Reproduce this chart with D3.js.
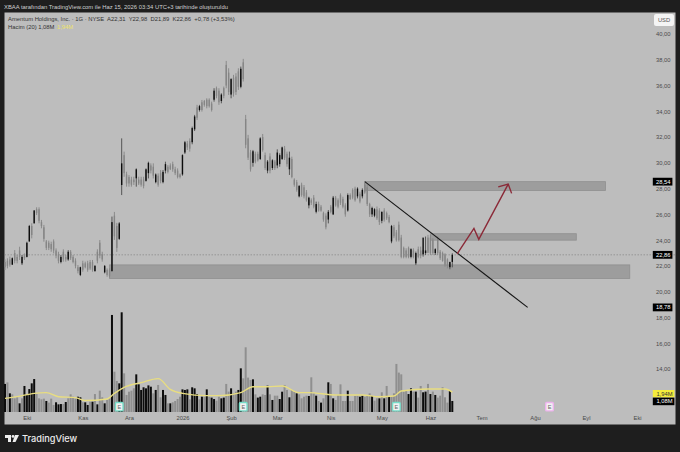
<!DOCTYPE html>
<html>
<head>
<meta charset="utf-8">
<script src="https://cdn.jsdelivr.net/npm/d3@7"></script>
<style>
html, body { margin: 0; padding: 0; background: #1e1e1e; }
svg { display: block; font-family: "Liberation Sans", Arial, sans-serif; }
</style>
</head>
<body>
<div id="chart"></div>
<script>
var highs = [
  22.51,22.59,22.72,22.66,23.23,22.85,23.49,22.85,22.97,23.88,
  25.18,25.31,26.34,26.55,26.55,25.57,25.18,24.01,23.96,23.88,
  24.06,23.36,23.1,22.85,23.29,22.85,23.23,23.23,22.85,22.59,
  22.07,21.94,22.4,22.33,22.4,22.46,22.46,22.07,23.29,24.01,
  23.1,22.07,21.81,21.81,25.83,26.19,25.34,25.4,31.9,30.87,
  29.31,29.05,28.92,28.92,29.57,28.92,28.92,28.92,29.57,30.09,
  29.96,29.96,29.18,29.18,29.44,29.44,30.09,29.83,29.96,30.09,
  29.7,29.57,29.18,30.66,31.7,31.7,31.9,32.81,33.72,34.5,
  34.5,34.88,34.88,35.01,35.01,34.75,35.79,35.92,35.79,35.4,
  35.92,37.91,37.34,36.57,36.83,36.96,37.34,37.47,38.07,33.72,
  32.17,31.0,31.0,30.87,30.87,31.99,32.24,30.8,30.22,30.74,
  30.28,30.22,31.05,30.74,31.26,31.31,30.87,30.87,30.48,28.8,
  28.67,28.28,28.46,28.28,27.89,27.37,27.24,27.5,26.99,26.99,
  26.73,26.21,26.08,26.34,26.73,27.43,27.43,27.24,27.63,27.37,
  26.86,27.63,27.63,28.02,28.15,28.1,27.76,28.02,28.44,28.3,
  26.9,26.6,26.48,26.61,26.48,26.22,26.48,26.22,25.96,25.18,
  25.18,24.79,25.44,24.41,23.5,23.37,23.5,23.37,23.37,23.11,
  23.5,23.5,23.24,24.28,24.41,24.41,24.15,23.37,24.28,23.24,
  23.11,22.98,22.59,22.33,22.98
];
var lows = [
  21.68,21.81,21.94,22.07,22.2,22.2,22.46,22.07,22.46,22.66,
  23.88,24.14,25.31,25.95,25.31,24.92,23.88,23.23,23.23,23.1,
  22.97,22.59,22.2,22.2,22.33,22.33,22.4,22.46,22.2,21.81,
  21.42,21.21,21.55,21.81,21.55,21.68,21.55,21.55,22.2,22.59,
  22.33,21.42,21.16,21.1,21.56,24.02,23.09,24.02,27.5,28.92,
  28.15,28.15,28.15,28.28,28.15,28.28,28.15,28.02,28.54,28.79,
  29.18,28.79,28.41,28.15,28.41,28.41,29.18,29.18,29.44,29.31,
  29.05,28.79,28.79,29.0,30.69,31.0,30.87,31.44,32.47,33.33,
  33.98,33.98,34.36,34.23,34.29,33.98,34.75,35.01,34.5,34.62,
  35.01,35.79,35.27,35.01,35.14,35.27,35.66,35.79,36.31,31.13,
  30.22,29.32,29.7,29.96,30.1,30.22,30.87,29.45,29.19,29.19,
  29.45,29.45,29.58,29.7,30.22,30.22,29.7,29.06,28.8,28.15,
  27.76,27.32,27.37,27.24,26.99,26.47,26.73,26.47,26.08,26.21,
  26.21,25.43,24.84,25.3,26.08,25.95,26.6,26.47,26.73,26.47,
  25.82,26.21,27.12,27.17,26.99,27.24,26.86,27.24,27.6,26.65,
  25.8,25.8,25.78,25.57,25.18,25.31,25.44,25.57,25.31,23.76,
  24.15,23.89,23.89,22.59,22.59,22.59,22.59,22.59,22.59,22.07,
  22.59,22.59,22.72,22.85,23.11,22.85,22.85,22.85,22.85,22.46,
  22.33,21.94,21.81,21.74,21.89
];
var opens = [
  22.3,22.4,22.5,22.1,23.0,22.7,23.2,22.2,22.8,22.7,
  23.9,25.1,25.3,26.4,26.4,25.4,25.0,23.9,23.8,23.7,
  23.9,23.2,22.9,22.3,23.1,22.7,22.5,23.1,22.7,22.4,
  21.9,21.3,22.2,22.2,22.2,22.3,22.3,21.6,23.1,23.8,
  22.9,21.5,21.7,21.7,21.6,25.9,25.1,24.1,28.28,30.6,
  29.1,28.9,28.7,28.7,28.8,28.7,28.7,28.7,28.6,29.2,
  29.8,29.7,28.5,29.0,29.2,28.5,29.4,29.7,29.8,29.9,
  29.5,29.4,29.1,29.1,30.8,31.5,31.7,31.6,32.6,34.3,
  34.1,34.7,34.8,34.9,34.9,34.6,34.9,35.8,35.6,34.8,
  35.8,37.6,37.0,35.3,36.6,36.7,37.1,35.9,37.8,33.4,
  31.9,30.8,30.0,30.7,30.7,30.3,32.0,30.6,29.4,30.5,
  29.6,30.1,29.8,29.9,30.3,31.1,30.7,29.5,30.3,28.7,
  28.5,27.4,28.3,28.1,27.7,26.7,27.1,27.3,26.2,26.8,
  26.6,26.1,25.9,25.6,26.6,26.0,27.3,27.1,27.5,27.2,
  26.7,26.3,27.5,27.9,28.0,27.4,27.6,27.4,28.3,28.1,
  26.8,26.0,25.9,26.4,26.3,25.5,26.3,26.1,25.8,23.9,
  25.0,24.6,25.2,24.2,23.4,23.2,23.4,22.7,23.2,22.2,
  23.3,23.2,22.9,23.0,24.2,24.2,24.0,23.0,24.1,23.1,
  23.0,22.9,22.5,21.9,22.31
];
var closes = [
  21.9,22.0,22.1,22.6,22.4,22.4,22.7,22.7,22.6,23.8,
  25.1,24.4,26.3,26.1,25.5,25.1,24.1,23.4,23.4,23.3,
  23.2,22.8,22.4,22.7,22.5,22.5,23.1,22.6,22.3,22.0,
  21.6,21.9,21.7,21.9,21.7,21.8,21.7,22.0,22.4,22.8,
  22.5,22.0,21.3,21.2,25.4,24.3,23.4,25.3,29.96,29.2,
  28.4,28.4,28.3,28.5,29.5,28.4,28.3,28.2,29.5,30.0,
  29.4,29.0,29.1,28.3,28.6,29.3,29.9,29.3,29.5,29.5,
  29.2,28.9,28.9,30.6,31.6,31.2,31.1,32.7,33.6,33.5,
  34.4,34.1,34.5,34.4,34.4,34.1,35.6,35.2,34.7,35.3,
  35.2,36.0,35.5,36.5,35.4,35.5,35.9,37.3,36.5,31.4,
  30.4,29.5,30.9,30.1,30.2,31.9,31.0,29.6,30.1,29.4,
  30.2,29.6,30.8,30.6,31.2,30.4,29.9,30.4,28.9,28.3,
  27.9,28.2,27.5,27.4,27.1,27.3,26.9,26.6,26.8,26.3,
  26.3,25.6,25.0,26.2,26.2,27.3,26.7,26.6,26.9,26.6,
  26.0,27.5,27.2,27.3,27.1,28.0,27.0,27.9,27.7,26.8,
  26.0,26.5,26.4,25.7,25.4,26.2,25.6,25.7,25.4,25.1,
  24.3,24.0,24.0,22.7,22.7,22.7,22.7,23.3,22.7,23.0,
  22.7,22.8,24.2,23.2,23.0,23.0,23.0,23.3,23.0,22.6,
  22.4,22.1,22.0,22.3,22.86
];
var volumes = [
  2.75,2.9,1.83,1.73,1.34,1.44,.85,1.34,2.55,1.67,
  2.25,2.81,3.23,1.76,1.34,1.24,1.31,1.08,.92,1.31,
  .69,.95,.75,.78,.78,.98,1.34,1.73,1.5,1.31,
  1.5,1.44,.95,.95,.69,1.01,1.01,1.76,.75,2.09,
  1.44,.85,1.18,1.34,9.51,3.95,3.04,2.81,9.77,3.79,
  1.67,1.99,2.09,2.32,3.69,2.71,2.16,2.42,2.32,2.61,
  2.48,1.83,2.16,2.65,1.44,2.16,1.67,.85,.85,.95,
  1.08,1.27,1.5,2.22,2.16,2.22,1.24,2.42,2.32,1.76,
  1.24,1.5,1.5,2.22,1.5,1.41,1.27,1.11,1.5,1.34,
  1.41,2.75,2.0,2.32,1.83,2.0,2.16,4.28,3.3,6.34,
  3.37,3.14,3.2,1.73,1.41,1.5,1.73,1.67,2.58,1.73,
  1.18,1.6,1.6,1.27,1.99,2.65,2.16,1.44,2.16,1.99,
  1.83,1.73,1.34,1.5,1.6,1.57,3.4,1.83,1.6,1.08,
  .92,1.34,1.67,2.91,2.75,1.34,1.18,1.67,2.71,1.08,
  1.08,2.09,1.08,1.08,1.57,1.6,1.5,1.6,1.5,1.6,
  1.83,1.57,1.11,1.34,1.34,1.93,1.34,2.55,1.5,1.5,
  1.83,4.71,3.86,3.69,1.99,2.06,1.76,2.32,2,2,
  1.41,2.55,1.93,2,2.75,1.76,2,1.67,1.41,1.6,
  2.42,1.44,.92,2.06,1.08
];
// bars whose volume column is black in the picture
var volBlack = [0,2,6,8,9,10,11,12,17,21,22,23,25,30,31,33,34,36,38,41,44,47,48,
  54,55,56,57,58,59,60,62,65,66,68,73,74,75,77,78,79,81,83,85,86,89,90,93,96,97,
  102,104,105,108,110,113,114,117,120,125,128,130,133,135,141,146,147,151,154,156,
  158,166,167,169,172,173,175,177,183,184];

var maBars = [0,5,12,17,22,29,33,42,45,49,56,63,68,73,83,88,97,102,108,114,121,125,136,147,154,160,163,174,181,184];
var maValues = [1.34,1.51,1.83,1.9,1.5,1.41,1.12,1.28,1.83,2.42,2.88,3.27,2.22,1.83,1.6,1.6,1.9,2.48,2.48,2.55,1.9,1.9,1.67,1.67,1.5,1.57,2.06,2.25,2.25,1.94];

var priceTicks = [40,38,36,34,32,30,28,26,24,22,20,18,16,14];
var timeBars = [9,32,51,73,93,112,134,155,175,196,218,239,260];
var timeLabels = ['Eki','Kas','Ara','2026','Şub','Mar','Nis','May','Haz','Tem','Ağu','Eyl','Eki'];

var zoneBars = [[43,257],[175,235],[148,247]];
var zonePrices = [[22.08,21.03],[24.5,24.0],[28.54,27.85]];
var trendBars = [148,215];
var trendPrices = [28.54,18.78];
var arrowBars = [186,192.9,194.9,207];
var arrowPrices = [22.93,24.91,24.06,28.35];
var headBars = [202.9,207,208.4];
var headPrices = [28.14,28.35,27.63];
var eventBars = [47,98,161,224];
var eventColors = ['#76dcc8','#76dcc8','#76dcc8','#eeb2ee'];

var lastPrice = 22.86;
var priceBadges = [{p: 28.54, t: '28,54'}, {p: 22.86, t: '22,86'}, {p: 18.78, t: '18,78'}];

var W = 680, H = 452;
var plot = {left: 4.5, right: 675.5, top: 12.5, bottom: 424.5};
var BG = '#bdbdbd', DARK = '#1e1e1e', UP = '#0c0c0c', DOWN = '#858585';

var x = d3.scaleLinear().domain([0, 184]).range([5, 452.3]);
var y = d3.scaleLinear().domain([40, 14]).range([34, 369]);
var v = d3.scaleLinear().domain([0, 9.8]).range([412, 312]);

var svg = d3.select('#chart').append('svg')
  .attr('width', W)
  .attr('height', H);

svg.append('rect').attr('width', W).attr('height', H).attr('fill', DARK);
svg.append('rect')
  .attr('x', plot.left)
  .attr('y', plot.top)
  .attr('width', plot.right - plot.left)
  .attr('height', plot.bottom - plot.top)
  .attr('fill', BG);

// zones under the candles
svg.selectAll('.zone').data(zoneBars).enter().append('rect')
  .attr('class', 'zone')
  .attr('x', function(d){ return x(d[0]); })
  .attr('width', function(d){ return x(d[1]) - x(d[0]); })
  .attr('y', function(d,i){ return y(zonePrices[i][0]); })
  .attr('height', function(d,i){ return y(zonePrices[i][1]) - y(zonePrices[i][0]); })
  .attr('fill', '#9d9d9d')
  .attr('stroke', '#8f8f8f')
  .attr('stroke-width', 0.8);

svg.append('line')
  .attr('x1', plot.left)
  .attr('x2', plot.right)
  .attr('y1', y(lastPrice))
  .attr('y2', y(lastPrice))
  .attr('stroke', '#7c7c7c')
  .attr('stroke-width', 0.6)
  .attr('stroke-dasharray', '1.5 1.5');

// volume
var blackSet = new Set(volBlack);
svg.selectAll('.vol').data(volumes).enter().append('rect')
  .attr('class', 'vol')
  .attr('x', function(d,i){ return x(i) - 1; })
  .attr('width', 2)
  .attr('y', function(d){ return v(d); })
  .attr('height', function(d){ return v(0) - v(d); })
  .attr('fill', function(d,i){ return blackSet.has(i) ? UP : '#8f8f8f'; });

svg.append('path')
  .attr('d', d3.line()
    .x(function(d){ return x(d); })
    .y(function(d,i){ return v(maValues[i]); })
    .curve(d3.curveMonotoneX)(maBars))
  .attr('fill', 'none')
  .attr('stroke', '#e8dd80')
  .attr('stroke-width', 1.4);

// candles
var bars = d3.range(highs.length);
svg.selectAll('.wick').data(bars).enter().append('line')
  .attr('class', 'wick')
  .attr('x1', function(i){ return x(i); })
  .attr('x2', function(i){ return x(i); })
  .attr('y1', function(i){ return y(highs[i]); })
  .attr('y2', function(i){ return y(lows[i]); })
  .attr('stroke', function(i){ return closes[i] > opens[i] ? '#4a4a4a' : DOWN; })
  .attr('stroke-width', 0.9);
svg.selectAll('.body').data(bars).enter().append('rect')
  .attr('class', 'body')
  .attr('x', function(i){ return x(i) - 0.7; })
  .attr('width', 1.4)
  .attr('y', function(i){ return y(Math.max(opens[i], closes[i])); })
  .attr('height', function(i){ return Math.abs(y(opens[i]) - y(closes[i])); })
  .attr('fill', function(i){ return closes[i] > opens[i] ? UP : DOWN; });

// drawings
svg.append('line')
  .attr('x1', x(trendBars[0]))
  .attr('y1', y(trendPrices[0]))
  .attr('x2', x(trendBars[1]))
  .attr('y2', y(trendPrices[1]))
  .attr('stroke', '#151515')
  .attr('stroke-width', 1.1);

var lineByIndex = function(xs, ys) {
  return d3.line()
    .x(function(d){ return x(d); })
    .y(function(d,i){ return y(ys[i]); })(xs);
};
svg.append('path')
  .attr('d', lineByIndex(arrowBars, arrowPrices))
  .attr('fill', 'none')
  .attr('stroke', '#8b2a38')
  .attr('stroke-width', 1.4);
svg.append('path')
  .attr('d', lineByIndex(headBars, headPrices))
  .attr('fill', 'none')
  .attr('stroke', '#8b2a38')
  .attr('stroke-width', 1.4);

// earnings markers
var events = svg.selectAll('.event').data(eventBars).enter().append('g')
  .attr('class', 'event')
  .attr('transform', function(d){ return 'translate(' + x(d) + ',406.7)'; });
events.append('rect')
  .attr('x', -3.8).attr('y', -4.2)
  .attr('width', 7.6).attr('height', 8.4)
  .attr('rx', 1)
  .attr('fill', '#f2f2f2')
  .attr('stroke', function(d,i){ return eventColors[i]; })
  .attr('stroke-width', 1.4);
events.append('text')
  .attr('text-anchor', 'middle')
  .attr('y', 2)
  .attr('font-size', 5.5)
  .attr('fill', '#666')
  .text('E');

// axes
var priceAxis = d3.axisRight(y)
  .tickValues(priceTicks)
  .tickSize(0)
  .tickFormat(function(d){ return d3.format('.2f')(d).replace('.', ','); });
var gy = svg.append('g')
  .attr('transform', 'translate(670.5,0)')
  .call(priceAxis);
gy.select('.domain').remove();
gy.selectAll('text')
  .attr('x', 0)
  .attr('text-anchor', 'end')
  .attr('font-size', 5.8)
  .attr('font-family', '"Liberation Sans", Arial, sans-serif')
  .attr('fill', '#4a4a4a');

var timeAxis = d3.axisBottom(x)
  .tickValues(timeBars)
  .tickSize(0)
  .tickFormat(function(d,i){ return timeLabels[i]; });
var gx = svg.append('g')
  .attr('transform', 'translate(0,416)')
  .call(timeAxis);
gx.select('.domain').remove();
gx.selectAll('text')
  .attr('y', 0)
  .attr('dy', '0.71em')
  .attr('font-size', 5.8)
  .attr('font-family', '"Liberation Sans", Arial, sans-serif')
  .attr('fill', '#4a4a4a');

// price badges
var badges = svg.selectAll('.badge').data(priceBadges).enter().append('g')
  .attr('class', 'badge')
  .attr('transform', function(d){ return 'translate(0,' + y(d.p) + ')'; });
badges.append('rect')
  .attr('x', 652.8).attr('y', -3.9)
  .attr('width', 19.6).attr('height', 7.8)
  .attr('fill', '#000');
badges.append('text')
  .attr('x', 670.5).attr('y', 2)
  .attr('text-anchor', 'end')
  .attr('font-size', 5.8)
  .attr('fill', '#fff')
  .text(function(d){ return d.t; });

svg.append('rect').attr('x', 652.8).attr('y', 390).attr('width', 21.6).attr('height', 7.4).attr('fill', '#f4ec3c');
svg.append('text').attr('x', 672.5).attr('y', 395.8).attr('text-anchor', 'end').attr('font-size', 5.8).attr('fill', '#333').text('1,94M');
svg.append('rect').attr('x', 652.8).attr('y', 397.6).attr('width', 21.6).attr('height', 7.6).attr('fill', '#000');
svg.append('text').attr('x', 672.5).attr('y', 403.4).attr('text-anchor', 'end').attr('font-size', 5.8).attr('fill', '#fff').text('1,08M');

svg.append('rect').attr('x', 654).attr('y', 14).attr('width', 20).attr('height', 12).attr('rx', 2).attr('fill', '#f4f4f4');
svg.append('text').attr('x', 664).attr('y', 22.2).attr('text-anchor', 'middle').attr('font-size', 5.8).attr('fill', '#555').text('USD');

// header and legend
svg.append('text').attr('x', 4).attr('y', 8.6).attr('font-size', 5.85).attr('fill', '#cfcfcf')
  .text('XBAA tarafından TradingView.com ile Haz 15, 2026 03:34 UTC+3 tarihinde oluşturuldu');
svg.append('text').attr('x', 8).attr('y', 21).attr('font-size', 5.85).attr('fill', '#333')
  .attr('xml:space', 'preserve')
  .text('Amentum Holdings, Inc. · 1G · NYSE  A22,31  Y22,98  D21,89  K22,86  +0,78 (+3,53%)');
svg.append('text').attr('x', 8).attr('y', 28.5).attr('font-size', 5.85).attr('fill', '#333')
  .text('Hacim (20)  1,08M');
svg.append('text').attr('x', 57).attr('y', 28.5).attr('font-size', 5.85).attr('fill', '#ece26a')
  .text('1,94M');

// footer logo
var logo = svg.append('g').attr('fill', '#ededed');
logo.append('path').attr('d', 'M5 435H11V442H8V438H5Z');
logo.append('circle').attr('cx', 13).attr('cy', 436.4).attr('r', 1.4);
logo.append('path').attr('d', 'M15 435H19L15.5 442H12.5Z');
svg.append('text').attr('x', 22).attr('y', 442).attr('font-size', 9.2).attr('font-weight', 500)
  .attr('font-family', 'Inter, "Liberation Sans", sans-serif').attr('fill', '#ededed')
  .text('TradingView');
</script>
</body>
</html>
